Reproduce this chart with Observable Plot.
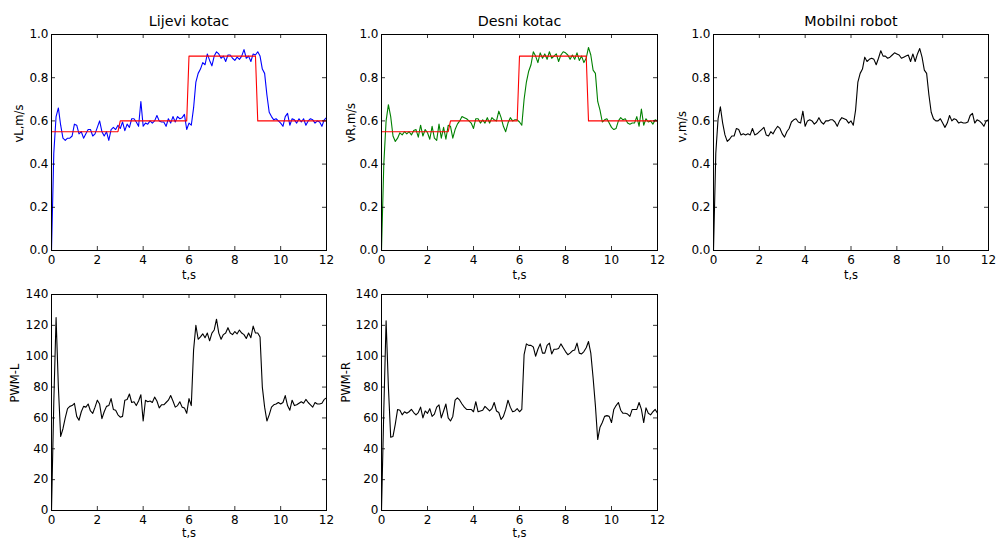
<!DOCTYPE html>
<html><head><meta charset="utf-8">
<script src="https://cdn.jsdelivr.net/npm/d3@7"></script>
<script src="https://cdn.jsdelivr.net/npm/@observablehq/plot@0.6"></script>
<style>
body{margin:0;background:#fff;}
#wrap{position:relative;width:997px;height:541px;background:#fff;overflow:hidden;}
#wrap svg{position:absolute;}
</style></head><body><div id="wrap"></div>
<script>
// sampling step of the recorded signals (s)
const dt = 0.1;

const vL = [0.0,0.45,0.62,0.66,0.58,0.52,0.51,0.52,0.52,0.53,
0.585,0.58,0.54,0.55,0.52,0.54,0.56,0.56,0.53,0.54,
0.57,0.60,0.55,0.53,0.55,0.51,0.56,0.57,0.56,0.58,
0.565,0.595,0.555,0.585,0.57,0.61,0.61,0.595,0.575,0.69,
0.575,0.59,0.585,0.60,0.59,0.60,0.625,0.60,0.595,0.595,
0.575,0.61,0.59,0.62,0.595,0.62,0.61,0.615,0.63,0.56,
0.59,0.58,0.66,0.78,0.82,0.84,0.87,0.86,0.91,0.88,
0.855,0.90,0.92,0.91,0.89,0.90,0.875,0.905,0.905,0.89,
0.88,0.895,0.885,0.90,0.93,0.89,0.90,0.875,0.91,0.905,
0.92,0.90,0.84,0.82,0.72,0.64,0.62,0.605,0.61,0.60,
0.59,0.575,0.62,0.635,0.58,0.61,0.605,0.59,0.61,0.595,
0.61,0.58,0.60,0.61,0.605,0.59,0.60,0.595,0.575,0.605,
0.615];

const vR = [0.0,0.4,0.6,0.675,0.62,0.53,0.505,0.52,0.545,0.535,
0.55,0.54,0.55,0.535,0.555,0.56,0.525,0.58,0.53,0.56,
0.545,0.515,0.575,0.52,0.51,0.585,0.52,0.57,0.515,0.58,
0.575,0.52,0.56,0.585,0.60,0.62,0.615,0.61,0.60,0.59,
0.565,0.61,0.61,0.59,0.605,0.59,0.615,0.59,0.615,0.605,
0.60,0.645,0.615,0.575,0.55,0.59,0.615,0.60,0.605,0.605,
0.595,0.58,0.70,0.78,0.83,0.86,0.92,0.90,0.87,0.915,
0.89,0.91,0.885,0.92,0.89,0.90,0.91,0.875,0.905,0.92,
0.915,0.905,0.885,0.905,0.885,0.915,0.88,0.90,0.87,0.89,
0.94,0.905,0.835,0.82,0.69,0.65,0.595,0.605,0.61,0.59,
0.57,0.56,0.565,0.60,0.615,0.605,0.61,0.59,0.585,0.59,
0.59,0.62,0.575,0.655,0.58,0.61,0.595,0.60,0.585,0.605,
0.60];

const vRobot = [0,0.45,0.61,0.665,0.59,0.535,0.505,0.515,0.53,0.53,
0.565,0.56,0.535,0.54,0.535,0.54,0.535,0.565,0.535,0.54,
0.55,0.56,0.57,0.535,0.53,0.55,0.54,0.56,0.575,0.565,
0.54,0.525,0.55,0.565,0.595,0.605,0.61,0.595,0.59,0.645,
0.575,0.60,0.605,0.60,0.585,0.595,0.615,0.595,0.585,0.60,
0.60,0.605,0.605,0.595,0.575,0.60,0.615,0.61,0.605,0.59,
0.60,0.58,0.65,0.78,0.82,0.84,0.895,0.875,0.885,0.89,
0.885,0.86,0.89,0.925,0.90,0.90,0.89,0.895,0.905,0.915,
0.91,0.905,0.89,0.895,0.90,0.905,0.875,0.91,0.875,0.91,
0.935,0.895,0.835,0.82,0.72,0.64,0.61,0.60,0.60,0.61,
0.59,0.57,0.59,0.625,0.60,0.61,0.605,0.59,0.595,0.59,
0.59,0.595,0.625,0.635,0.59,0.605,0.60,0.59,0.575,0.60,
0.605];

const pwmL = [0,70,125,80,48,53,60,66,67.5,68,
69.5,61,58.5,64,67.5,67,69,64.5,63,67,
71.5,69,59.5,64,67.5,68,72.5,65.5,65,62,
60.5,61,71.5,72,75.5,70,70.5,68,71,75,
58,71.5,70.5,71,70,73.5,71,66.5,68.5,68.5,
70,71.5,74.5,71,67,68,70.5,67,66.5,63,
72.5,68,104,120,111,112.5,114.5,112,115,110,
115,117,124,115,111,114,115,118.5,115,114,
116,114.5,117,115,114,111.5,115,112,119.5,115,
115,112.5,80,67,58,62,67,68.5,69,70,
69,70,74.5,68,65,71.5,68,68.5,69.5,70.5,
69.5,72,70,68.5,67,70,69,69,69.5,72,
73];

const pwmR = [0,65,123,80,47.5,48,56,65.5,65,62,
64,63,64,65.5,63.5,62,63.5,67,60,64.5,
63,66,61,62.5,67,68.5,60,64.5,69,60,
58,61,71.5,73,71.5,69,67,65.5,65.5,65.5,
64,70.5,64,64.5,65,67.5,66,64.5,66,70,
64.5,63.5,59,61,65.5,71.5,67,64,64.5,66,
64,65.5,101,108,107,107,106,100,104.5,108,
102,102,107,108.5,101.5,104.5,104.5,105,108,105.5,
103,101,102,103.5,104,108.5,102,101.5,103,105.5,
109.5,102,86,68,46,54,57,61,61.5,61,
57,65.5,68,70,65,63,63,62.5,61,65.5,
65.5,65.5,70,65.5,57,66.5,63,62,64,65.5,
63];

// reference (setpoint) step signal breakpoints
const refT = [0, 2.9, 3.0, 5.9, 6.0, 8.9, 9.0, 12];
const refV = [0.55, 0.55, 0.6, 0.6, 0.9, 0.9, 0.6, 0.6];

const xTicks = [0, 2, 4, 6, 8, 10, 12];
const vTicks = [0, 0.2, 0.4, 0.6, 0.8, 1.0];
const pwmTicks = [0, 20, 40, 60, 80, 100, 120, 140];

const titles = ["Lijevi kotac", "Desni kotac", "Mobilni robot"];
const yLabels = ["vL,m/s", "vR,m/s", "v,m/s", "PWM-L", "PWM-R"];
const xLabel = "t,s";

const wrap = document.getElementById("wrap");

function panel(cfg) {
  const {left, top, ml, fw, mr, mt, fh, mb, yDomain, yTicks, yFmt, lines, title, ylabel, ylabelDx, xlabelDy} = cfg;
  const W = ml + fw + mr, H = mt + fh + mb;
  const marks = [];
  for (const ln of lines) {
    marks.push(Plot.line(ln.y, {x: ln.x, y: d => d, stroke: ln.color, strokeWidth: 1.1}));
  }
  // inward ticks on all four sides
  marks.push(Plot.ruleX(xTicks, {x: d => d, insetTop: fh - 4, stroke: "#000", strokeWidth: 0.8}));
  marks.push(Plot.ruleX(xTicks, {x: d => d, insetBottom: fh - 4, stroke: "#000", strokeWidth: 0.8}));
  marks.push(Plot.ruleY(yTicks, {y: d => d, insetRight: fw - 4, stroke: "#000", strokeWidth: 0.8}));
  marks.push(Plot.ruleY(yTicks, {y: d => d, insetLeft: fw - 4, stroke: "#000", strokeWidth: 0.8}));
  marks.push(Plot.frame({stroke: "#000", strokeWidth: 1}));
  marks.push(Plot.axisX(xTicks, {tickSize: 0, tickPadding: 5, label: null, fontSize: 12, tickFormat: d => String(d)}));
  marks.push(Plot.axisY(yTicks, {tickSize: 0, tickPadding: 3, label: null, fontSize: 12, tickFormat: yFmt}));
  if (title) marks.push(Plot.text([title], {frameAnchor: "top", dy: -13, fontSize: 14.3, lineAnchor: "middle"}));
  marks.push(Plot.text([ylabel], {frameAnchor: "left", dx: ylabelDx, rotate: -90, fontSize: 11.5, lineAnchor: "middle"}));
  marks.push(Plot.text([xLabel], {frameAnchor: "bottom", dy: xlabelDy, fontSize: 11.5, lineAnchor: "middle"}));
  const svg = Plot.plot({
    width: W, height: H,
    marginLeft: ml, marginRight: mr, marginTop: mt, marginBottom: mb,
    x: {domain: [0, 12]},
    y: {domain: yDomain},
    style: {background: "transparent", fontFamily: "'DejaVu Sans', sans-serif", fontSize: "12px", color: "#000", overflow: "visible"},
    marks
  });
  svg.style.left = left + "px";
  svg.style.top = top + "px";
  wrap.appendChild(svg);
}

const tOf = arr => arr.map((_, i) => +(i * dt).toFixed(2));
const f1 = d3.format(".1f");
const f0 = d => String(d);

panel({left: 0, top: 0, ml: 51, fw: 275, mr: 4, mt: 34, fh: 216, mb: 40,
  yDomain: [0, 1], yTicks: vTicks, yFmt: f1, title: titles[0], ylabel: yLabels[0], ylabelDx: -32, xlabelDy: 25,
  lines: [{x: tOf(vL), y: vL, color: "#0000ff"}, {x: refT, y: refV, color: "#ff0000"}]});
panel({left: 331, top: 0, ml: 50, fw: 276, mr: 4, mt: 34, fh: 216, mb: 40,
  yDomain: [0, 1], yTicks: vTicks, yFmt: f1, title: titles[1], ylabel: yLabels[1], ylabelDx: -30, xlabelDy: 25,
  lines: [{x: tOf(vR), y: vR, color: "#008000"}, {x: refT, y: refV, color: "#ff0000"}]});
panel({left: 663, top: 0, ml: 50, fw: 275, mr: 9, mt: 34, fh: 216, mb: 40,
  yDomain: [0, 1], yTicks: vTicks, yFmt: f1, title: titles[2], ylabel: yLabels[2], ylabelDx: -31.5, xlabelDy: 25,
  lines: [{x: tOf(vRobot), y: vRobot, color: "#000000"}]});
panel({left: 0, top: 260, ml: 51, fw: 275, mr: 4, mt: 34, fh: 216, mb: 31,
  yDomain: [0, 140], yTicks: pwmTicks, yFmt: f0, title: null, ylabel: yLabels[3], ylabelDx: -36.5, xlabelDy: 23,
  lines: [{x: tOf(pwmL), y: pwmL, color: "#000000"}]});
panel({left: 331, top: 260, ml: 50, fw: 276, mr: 4, mt: 34, fh: 216, mb: 31,
  yDomain: [0, 140], yTicks: pwmTicks, yFmt: f0, title: null, ylabel: yLabels[4], ylabelDx: -35.5, xlabelDy: 23,
  lines: [{x: tOf(pwmR), y: pwmR, color: "#000000"}]});
</script></body></html>
